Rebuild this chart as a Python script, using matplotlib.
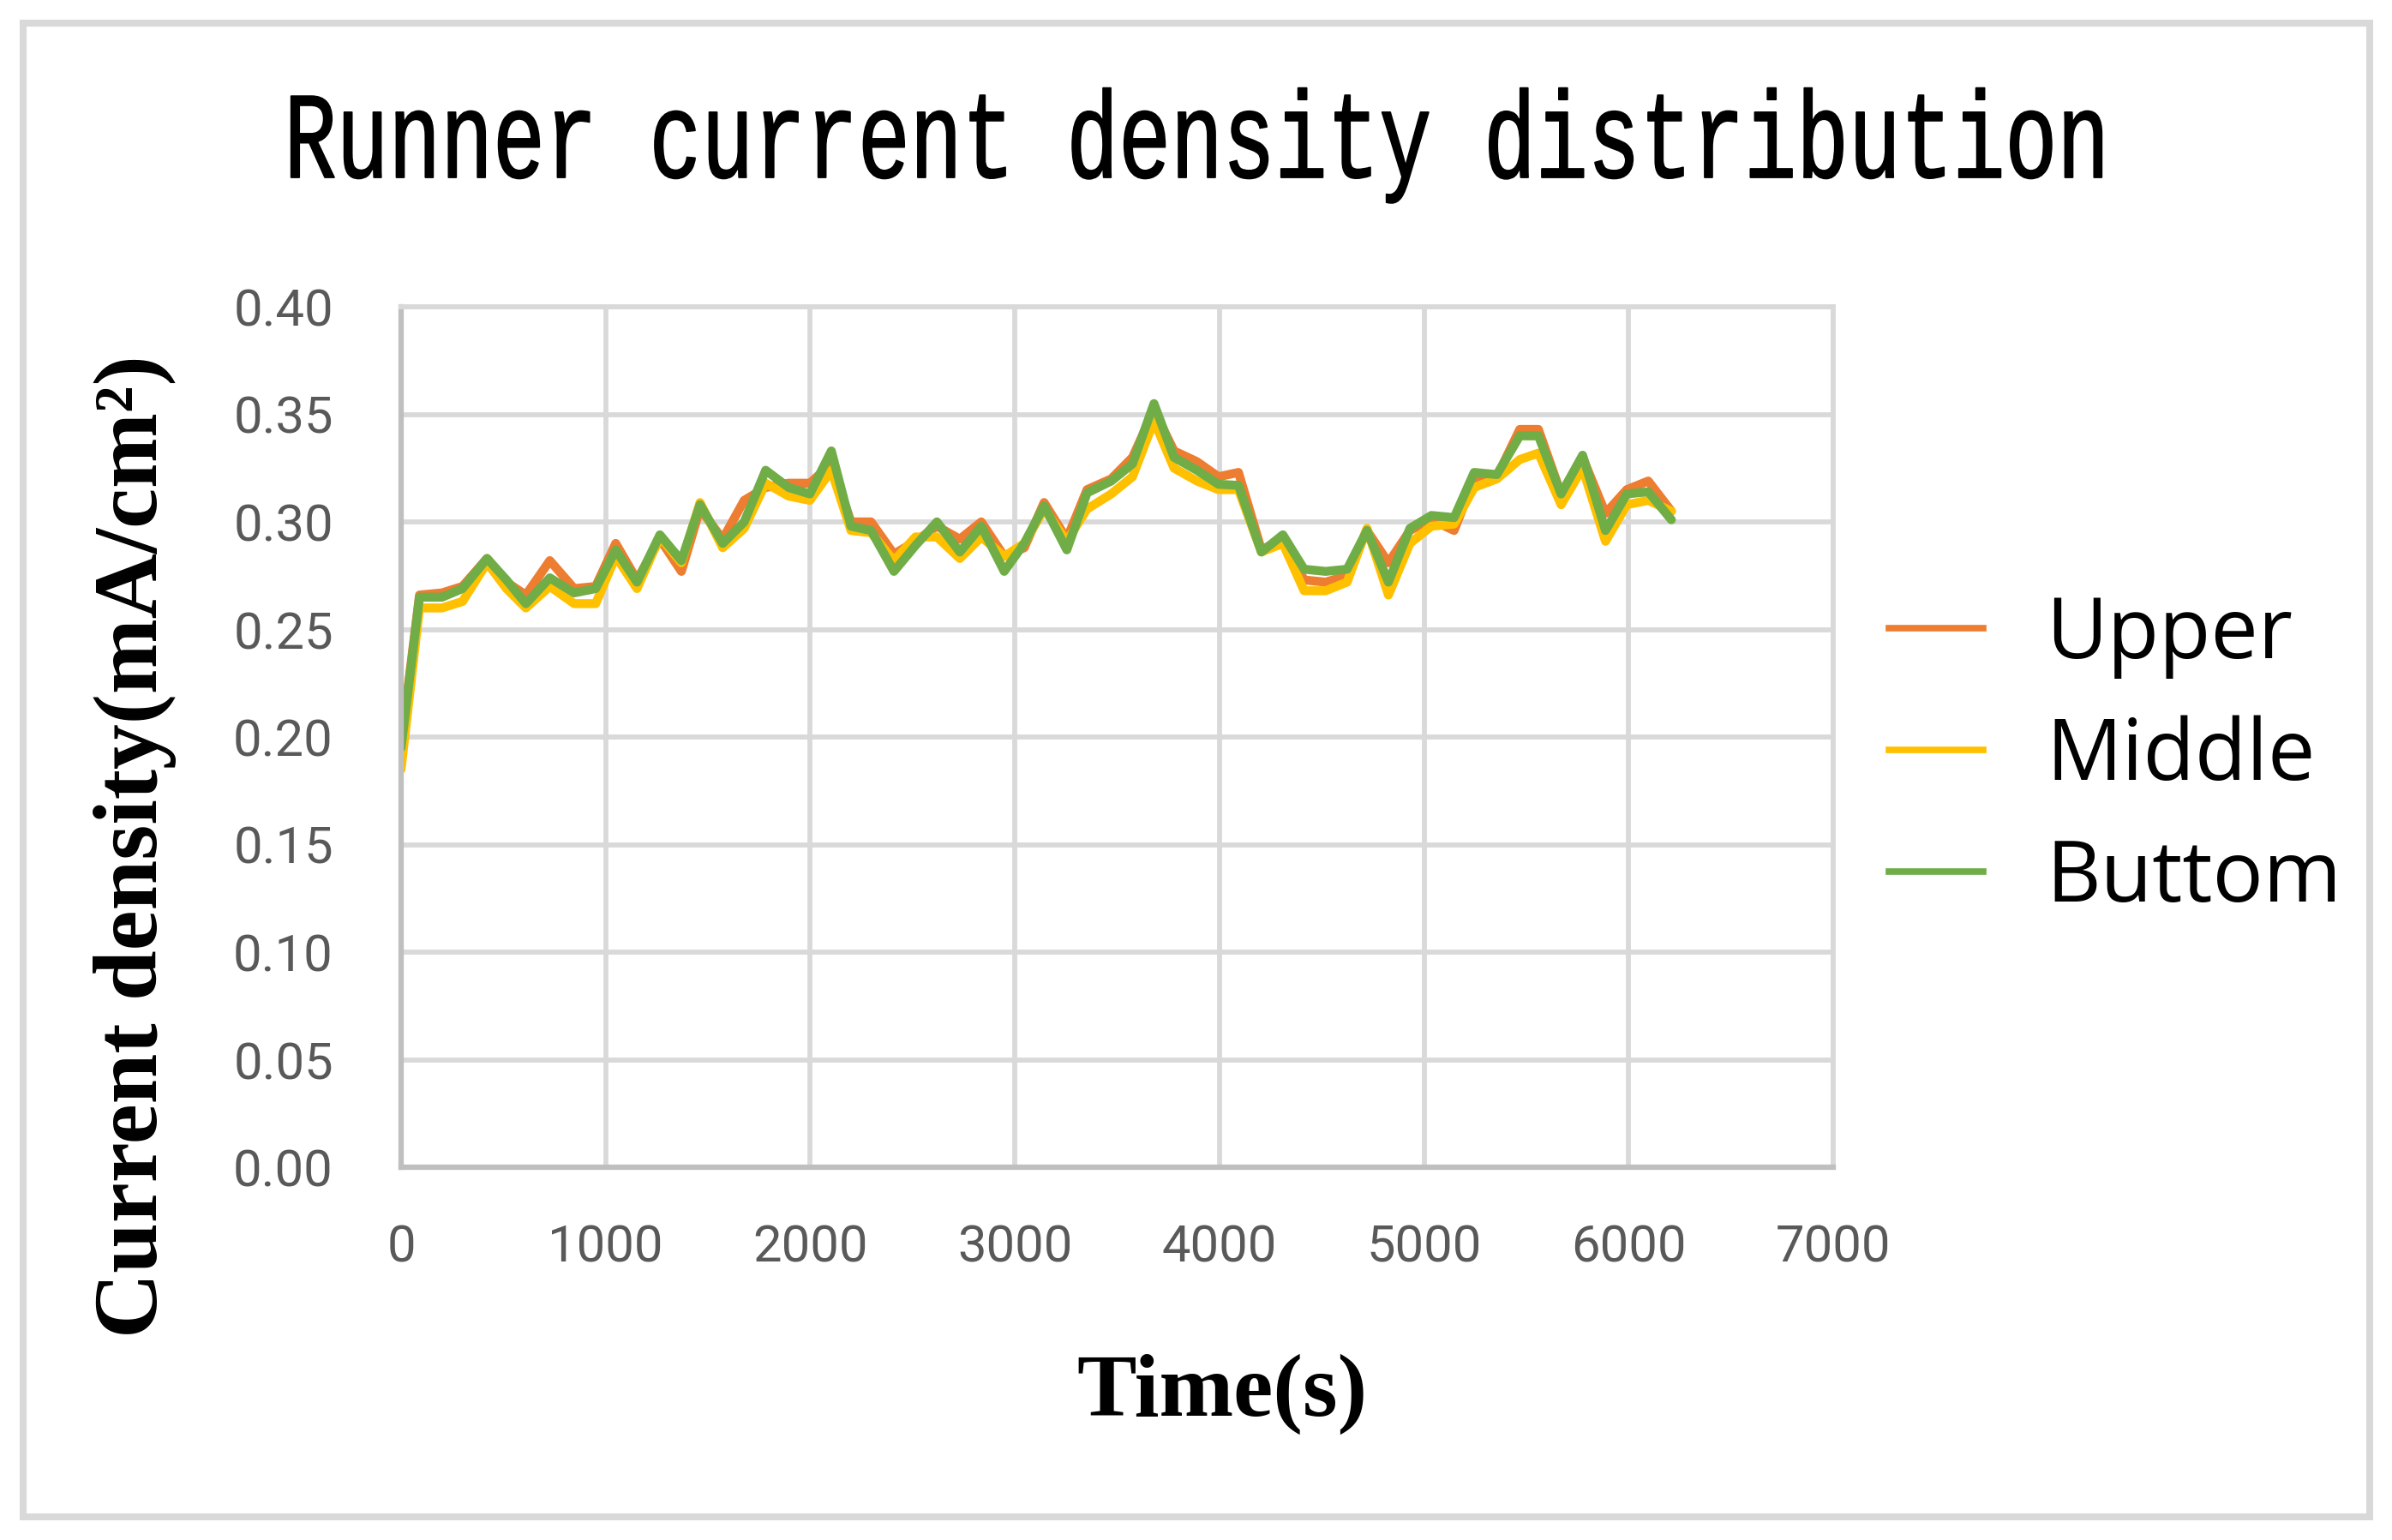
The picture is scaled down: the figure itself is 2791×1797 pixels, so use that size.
import matplotlib
matplotlib.use("Agg")
import matplotlib.pyplot as plt
from matplotlib.patheffects import AbstractPathEffect
from matplotlib.transforms import Affine2D
from matplotlib.patches import Rectangle
from matplotlib.lines import Line2D
from matplotlib.ticker import FormatStrFormatter

# ---------------- data ----------------
time_s = [0, 90, 200, 300, 420, 515, 610, 727, 846, 951, 1049, 1153, 1265, 1370,
          1461, 1572, 1677, 1782, 1894, 1998, 2103, 2199, 2297, 2409, 2514, 2619,
          2731, 2836, 2948, 3046, 3143, 3254, 3353, 3471, 3575, 3680, 3778, 3890,
          3995, 4093, 4205, 4310, 4414, 4519, 4624, 4721, 4826, 4931, 5036, 5147,
          5245, 5356, 5468, 5559, 5670, 5775, 5887, 5991, 6096, 6209]

upper = [0.197, 0.266, 0.267, 0.270, 0.283, 0.272, 0.266, 0.282, 0.269, 0.270,
         0.290, 0.273, 0.292, 0.277, 0.306, 0.292, 0.310, 0.316, 0.318, 0.318,
         0.327, 0.300, 0.300, 0.285, 0.291, 0.298, 0.292, 0.300, 0.284, 0.288,
         0.309, 0.292, 0.315, 0.320, 0.330, 0.352, 0.333, 0.328, 0.321, 0.323,
         0.287, 0.292, 0.273, 0.272, 0.275, 0.296, 0.281, 0.296, 0.301, 0.296,
         0.320, 0.321, 0.343, 0.343, 0.313, 0.330, 0.304, 0.315, 0.319, 0.305]

middle = [0.185, 0.260, 0.260, 0.263, 0.281, 0.269, 0.260, 0.270, 0.262, 0.262,
          0.284, 0.269, 0.293, 0.281, 0.309, 0.288, 0.297, 0.318, 0.312, 0.310,
          0.324, 0.296, 0.295, 0.282, 0.293, 0.293, 0.283, 0.293, 0.284, 0.290,
          0.306, 0.291, 0.306, 0.313, 0.321, 0.347, 0.325, 0.319, 0.315, 0.315,
          0.286, 0.290, 0.268, 0.268, 0.272, 0.297, 0.266, 0.290, 0.298, 0.299,
          0.316, 0.320, 0.329, 0.332, 0.308, 0.325, 0.291, 0.308, 0.310, 0.305]

bottom = [0.195, 0.265, 0.265, 0.269, 0.283, 0.273, 0.262, 0.274, 0.267, 0.269,
          0.287, 0.272, 0.294, 0.282, 0.308, 0.290, 0.300, 0.324, 0.316, 0.313,
          0.333, 0.298, 0.296, 0.277, 0.289, 0.300, 0.286, 0.298, 0.277, 0.290,
          0.3075, 0.287, 0.3135, 0.319, 0.327, 0.355, 0.330, 0.324, 0.3175, 0.317,
          0.286, 0.294, 0.278, 0.277, 0.278, 0.296, 0.272, 0.297, 0.303, 0.302,
          0.323, 0.322, 0.340, 0.340, 0.313, 0.331, 0.296, 0.313, 0.314, 0.301]

series_labels = ["Upper", "Middle", "Buttom"]
x_ticks = [0, 1000, 2000, 3000, 4000, 5000, 6000, 7000]
y_ticks = [0.00, 0.05, 0.10, 0.15, 0.20, 0.25, 0.30, 0.35, 0.40]
title = "Runner current density distribution"
y_label = "Current density(mA/cm\u00b2)"
x_label = "Time(s)"

# ---------------- styling ----------------
colors = ["#ED7D31", "#FFC000", "#70AD47"]
W, H, DPI = 2791, 1797, 100


class VStretch(AbstractPathEffect):
    """Stretch glyph outlines vertically about the baseline, with a light stroke."""
    def __init__(self, sy, stroke=0.0):
        super().__init__()
        self.sy = sy
        self.stroke = stroke

    def draw_path(self, renderer, gc, tpath, affine, rgbFace=None):
        gc0 = renderer.new_gc()
        gc0.copy_properties(gc)
        gc0.set_linewidth(self.stroke)
        if rgbFace is not None:
            gc0.set_foreground(rgbFace)
        renderer.draw_path(gc0, tpath, Affine2D().scale(1.0, self.sy) + affine, rgbFace)
        gc0.restore()


fig = plt.figure(figsize=(W / DPI, H / DPI), dpi=DPI)
fig.patch.set_facecolor("white")

# outer light-gray frame
fig.patches.append(Rectangle((26.5 / W, 1 - 1769.5 / H), (2765 - 26.5) / W,
                             (1769.5 - 27) / H, transform=fig.transFigure,
                             fill=False, ec="#d9d9d9", lw=5.8))

ax = fig.add_axes([468 / W, 1 - 1362 / H, (2139 - 468) / W, (1362 - 358) / H])
ax.set_xlim(x_ticks[0], x_ticks[-1])
ax.set_ylim(y_ticks[0], y_ticks[-1])
ax.set_xticks(x_ticks)
ax.set_yticks(y_ticks)
ax.yaxis.set_major_formatter(FormatStrFormatter("%.2f"))
ax.grid(True, color="#d9d9d9", lw=4.2)
ax.set_axisbelow(True)
for s in ["top", "right"]:
    ax.spines[s].set_color("#d9d9d9")
    ax.spines[s].set_linewidth(4.2)
for s in ["left", "bottom"]:
    ax.spines[s].set_color("#bfbfbf")
    ax.spines[s].set_linewidth(4.5)
ax.tick_params(axis="both", length=0, labelsize=43, labelcolor="#595959")
ax.tick_params(axis="y", pad=57)
ax.tick_params(axis="x", pad=47)
for lab in ax.get_xticklabels() + ax.get_yticklabels():
    lab.set_family("Roboto")

for vals, c, lab in zip([upper, middle, bottom], colors, series_labels):
    ax.plot(time_s, vals, color=c, lw=7.5, label=lab,
            solid_joinstyle="round", solid_capstyle="round")

# title
fig.text(1397 / W, 1 - 207 / H, title, ha="center", va="baseline",
         family="Liberation Mono", fontsize=73, color="black",
         path_effects=[VStretch(1.42, stroke=1.3)])

# axis labels
fig.text(158 / W, 1 - 988 / H, y_label, rotation=90, ha="center", va="center",
         family="Liberation Serif", weight="bold", fontsize=76)
fig.text(1426 / W, 1 - 1652 / H, x_label, ha="center", va="baseline",
         family="Liberation Serif", weight="bold", fontsize=75)

# legend
leg_handles = [Line2D([], [], color=c, lw=5.5) for c in colors]
fig.legend(leg_handles, series_labels, loc="center left",
           bbox_to_anchor=(2204 / W, 1 - 884 / H), frameon=False,
           prop={"family": "Open Sans", "size": 71},
           handlelength=1.12, handletextpad=0.74, labelspacing=0.43,
           borderpad=0, borderaxespad=0)

fig.savefig("out.png", dpi=DPI)
